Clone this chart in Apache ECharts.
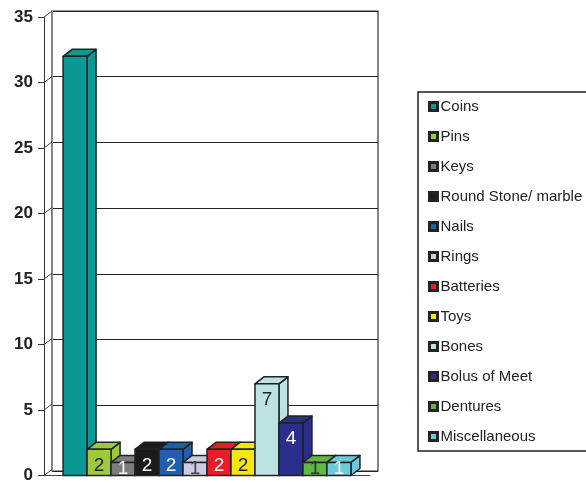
<!DOCTYPE html>
<html>
<head>
<meta charset="utf-8">
<script src="https://cdn.jsdelivr.net/npm/echarts@6/dist/echarts.min.js"></script>
<style>html,body{margin:0;padding:0;background:#fff;}#c{width:586px;height:484px;}</style>
</head>
<body>
<div id="c"></div>
<script>
const names = ['Coins','Pins','Keys','Round Stone/ marble','Nails','Rings','Batteries','Toys','Bones','Bolus of Meet','Dentures','Miscellaneous'];
const values = [32, 2, 1, 2, 2, 1, 2, 2, 7, 4, 1, 1];
const yTicks = [0, 5, 10, 15, 20, 25, 30, 35];

const colors = ['#0a9894','#9cc93e','#7d7d7d','#1b1b1b','#1f5fad','#cbcbe8','#ec1c24','#f5e60c','#bce2e4','#2b2f8c','#5db846','#6bcbdc'];
const labelColors = [null,'#222','#f4f4f4','#fff','#fff','#444','#fff','#222','#222','#fff','#333','#f4f4f4'];
const showLabel = [false,true,true,true,true,true,true,true,true,true,true,true];

const DX = 9, DY = -7, WALL_DX = 8, WALL_DY = -6;
const N = names.length;
const fillRatio = 0.883;

function barRenderer(i) {
  return function (params, api) {
    const v = api.value(1);
    const base = api.coord([0, 0]);
    const top = api.coord([0, v]);
    const band = api.size([1, 0])[0];
    const w = band * fillRatio / N;
    const x0 = base[0] - band * fillRatio / 2 + i * w;
    const ty = top[1], by = base[1];
    const col = colors[i];
    const st = { stroke: '#222', lineWidth: 1.5, lineJoin: 'round' };
    const children = [
      { type: 'polygon', shape: { points: [[x0 + w, ty], [x0 + w + DX, ty + DY], [x0 + w + DX, by + DY], [x0 + w, by]] },
        style: Object.assign({ fill: col }, st) },
      { type: 'polygon', shape: { points: [[x0, ty], [x0 + DX, ty + DY], [x0 + w + DX, ty + DY], [x0 + w, ty]] },
        style: Object.assign({ fill: col }, st) },
      { type: 'rect', shape: { x: x0, y: ty, width: w, height: by - ty },
        style: Object.assign({ fill: col }, st) }
    ];
    if (showLabel[i]) {
      children.push({ type: 'text', style: {
        text: String(v), x: x0 + w / 2, y: Math.min(ty + 16, by - 7),
        align: 'center', verticalAlign: 'middle',
        fill: labelColors[i], font: '19px "Liberation Sans", Arial, sans-serif' } });
    }
    return { type: 'group', children: children };
  };
}

const series = names.map((n, i) => ({
  type: 'custom', name: n, xAxisIndex: 0, yAxisIndex: 0,
  itemStyle: { color: colors[i] },
  renderItem: barRenderer(i),
  data: [[0, values[i]]],
  z: 10 + i
}));

series.push({
  type: 'custom', name: '_ticks', xAxisIndex: 0, yAxisIndex: 0, silent: true,
  renderItem: function (params, api) {
    const y = api.coord([0, api.value(0)])[1];
    const x = params.coordSys.x;
    return { type: 'line', shape: { x1: x, y1: y, x2: x + WALL_DX, y2: y + WALL_DY }, style: { stroke: '#444', lineWidth: 1 } };
  },
  data: yTicks.map(t => [t]),
  encode: { y: 0 },
  z: 3
});

const chart = echarts.init(document.getElementById('c'), null, { renderer: 'canvas' });
chart.setOption({
  animation: false,
  backgroundColor: '#fff',
  grid: [
    { left: 44, right: 216, top: 17, bottom: 7 },
    { left: 44 + WALL_DX, right: 216 - WALL_DX, top: 17 + WALL_DY, bottom: 7 - WALL_DY, show: true, borderColor: '#333', borderWidth: 1.2, backgroundColor: 'transparent' }
  ],
  xAxis: [
    { type: 'category', data: [''], gridIndex: 0, axisLine: { show: true, lineStyle: { color: '#444', width: 1 } }, axisTick: { show: false }, axisLabel: { show: false } },
    { type: 'category', data: [''], gridIndex: 1, axisLine: { show: false }, axisTick: { show: false }, axisLabel: { show: false } }
  ],
  yAxis: [
    { type: 'value', gridIndex: 0, min: 0, max: 35, interval: 5,
      axisLine: { show: true, lineStyle: { color: '#333', width: 1 } },
      axisTick: { show: true, length: 6, lineStyle: { color: '#333' } },
      axisLabel: { margin: 11, color: '#222', fontSize: 17, fontWeight: 'bold', fontFamily: '"Liberation Sans", Arial, sans-serif' },
      splitLine: { show: false } },
    { type: 'value', gridIndex: 1, min: 0, max: 35, interval: 5,
      axisLine: { show: true, lineStyle: { color: '#888', width: 1 } },
      axisTick: { show: false }, axisLabel: { show: false },
      splitLine: { show: true, lineStyle: { color: '#222', width: 1 } } }
  ],
  legend: {
    data: names,
    orient: 'vertical',
    left: 418, top: 92,
    padding: [7, 14, 7, 10],
    itemGap: 15,
    itemWidth: 8, itemHeight: 8,
    icon: 'rect',
    itemStyle: { borderColor: '#222', borderWidth: 3 },
    borderColor: '#222', borderWidth: 1.5,
    textStyle: { color: '#222', fontSize: 15, fontFamily: '"Liberation Sans", Arial, sans-serif', padding: [0, 0, 0, -2] },
    selectedMode: false
  },
  series: series
});
</script>
</body>
</html>
